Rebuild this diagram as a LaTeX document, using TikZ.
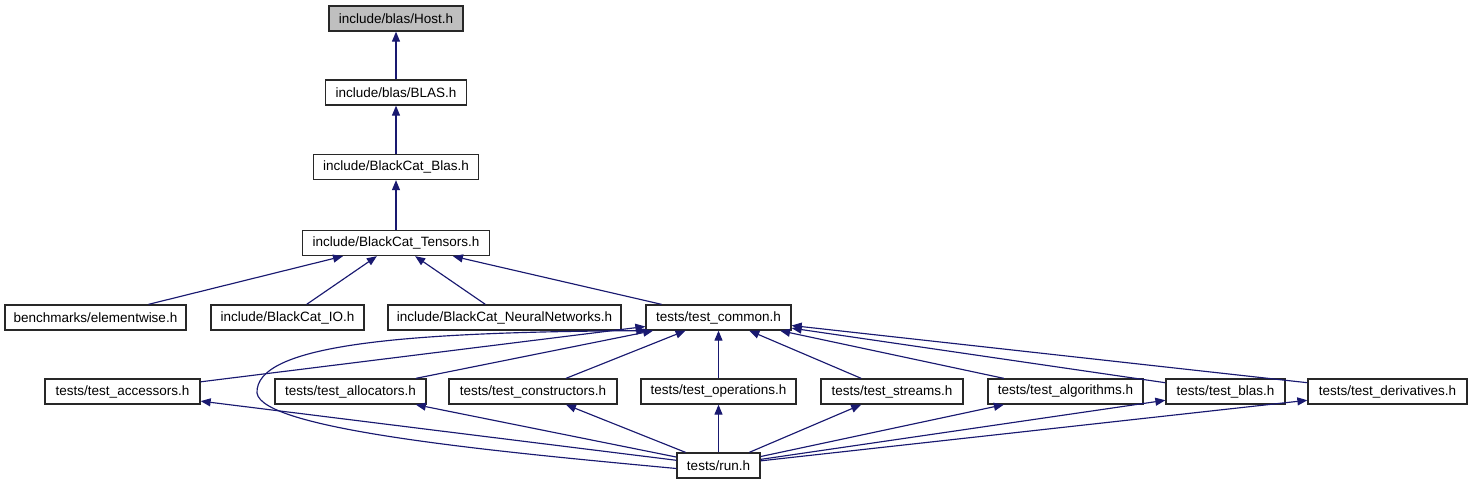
\documentclass[tikz,border=0pt]{standalone}
\usepackage{fontspec}
\setmainfont{Liberation Sans}
\usetikzlibrary{arrows.meta}
\definecolor{edgecol}{RGB}{25,25,112}
\definecolor{boxline}{RGB}{40,40,40}
\definecolor{hostfill}{RGB}{191,191,191}
\begin{document}
\begin{tikzpicture}[x=1pt,y=-1pt,
  filebox/.style={draw=boxline, line width=1.3pt, fill=white, minimum height=25pt, inner sep=0pt,
    font=\fontsize{13.5}{16}\selectfont},
  edge/.style={draw=edgecol, line width=1.15pt, -{Triangle[length=10pt,width=8pt]}}]
\useasboundingbox (0,0) rectangle (1473,485);
% nodes
\node[filebox, fill=hostfill, minimum width=134pt] (host) at (396,18.5) {include/blas/Host.h};
\node[filebox, minimum width=141pt] (blash) at (396,92.5) {include/blas/BLAS.h};
\node[filebox, minimum width=165pt] (bcblas) at (396,167) {include/BlackCat\_Blas.h};
\node[filebox, minimum width=187pt] (tensors) at (396,243) {include/BlackCat\_Tensors.h};
\node[filebox, minimum width=181pt] (elem) at (95.5,317.5) {benchmarks/elementwise.h};
\node[filebox, minimum width=153pt] (io) at (287.5,317.5) {include/BlackCat\_IO.h};
\node[filebox, minimum width=233pt] (nn) at (504.5,317.5) {include/BlackCat\_NeuralNetworks.h};
\node[filebox, minimum width=145pt] (common) at (718.5,317.5) {tests/test\_common.h};
\node[filebox, minimum width=155pt] (acc) at (122.5,391.5) {tests/test\_accessors.h};
\node[filebox, minimum width=151pt] (alloc) at (350.5,391.5) {tests/test\_allocators.h};
\node[filebox, minimum width=168pt] (constr) at (533,391.5) {tests/test\_constructors.h};
\node[filebox, minimum width=155pt] (oper) at (718.5,391.5) {tests/test\_operations.h};
\node[filebox, minimum width=142pt] (streams) at (892,391.5) {tests/test\_streams.h};
\node[filebox, minimum width=155pt] (algo) at (1065.5,391.5) {tests/test\_algorithms.h};
\node[filebox, minimum width=119pt] (tblas) at (1225.5,391.5) {tests/test\_blas.h};
\node[filebox, minimum width=159pt] (deriv) at (1387.5,391.5) {tests/test\_derivatives.h};
\node[filebox, minimum width=83pt] (run) at (718.5,465.5) {tests/run.h};
% edges
\draw[edge] (blash) -- (host);
\draw[edge] (bcblas) -- (blash);
\draw[edge] (tensors) -- (bcblas);
\draw[edge] (elem) -- (tensors);
\draw[edge] (io) -- (tensors);
\draw[edge] (nn) -- (tensors);
\draw[edge] (common) -- (tensors);
\foreach \t in {acc,alloc,constr,oper,streams,algo,tblas,deriv}{
  \draw[edge] (\t) -- (common);
  \draw[edge] (run) -- (\t);
}
\coordinate (loopleft) at (257,393);
\draw[edge] ([yshift=-3pt]run.west) .. controls (500,452) and (262,430) .. (loopleft)
  .. controls (255,345) and (400,332) .. ([xshift=1pt]common.south west);
\end{tikzpicture}
\end{document}
